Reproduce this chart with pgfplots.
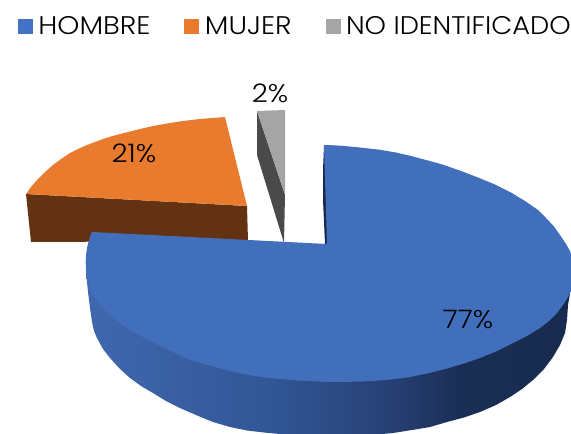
\documentclass[border=0pt]{standalone}
\usepackage{fontspec}
\setmainfont{Poppins}[UprightFont=* Light, FakeStretch=1.1]
\usepackage{pgfplots}
\pgfplotsset{compat=1.18}
\definecolor{cblue}{HTML}{4472C4}
\definecolor{topblue}{HTML}{416FBC}
\definecolor{corange}{HTML}{E97B2F}
\definecolor{cbrown}{HTML}{633213}
\definecolor{cgray}{HTML}{A5A5A5}
\definecolor{cdgray}{HTML}{4A4A4A}
\definecolor{sideR}{HTML}{172A4E}
\definecolor{sa}{HTML}{4068AF}
\definecolor{sb}{HTML}{315594}
\definecolor{sc}{HTML}{263F72}
\definecolor{sd}{HTML}{1A2E55}
\pgfdeclarehorizontalshading{sidewall}{100bp}{
  color(0bp)=(sa);
  color(25bp)=(sa);
  color(45bp)=(sb);
  color(57bp)=(sc);
  color(63.5bp)=(sd);
  color(75bp)=(sideR);
  color(100bp)=(sideR)}
\newcommand{\lblfont}{\fontsize{25.5}{27}\selectfont}
\begin{document}
\begin{tikzpicture}
\begin{axis}[
  scale only axis, width=571pt, height=434pt,
  xmin=0, xmax=571, ymin=0, ymax=434, y dir=reverse,
  axis lines=none, clip=true,
  legend style={draw=none, fill=none, at={(axis cs:18,26)}, anchor=west,
    legend columns=3, font=\lblfont, inner sep=0pt, outer sep=0pt,
    /tikz/every odd column/.append style={column sep=4pt},
    /tikz/every even column/.append style={column sep=32pt},
    /tikz/column 4/.append style={column sep=30pt}},
  legend cell align=left,
  legend image code/.code={\fill[#1] (0pt,-7pt) rectangle (14pt,7pt);},
]
\addlegendimage{cblue}\addlegendentry{HOMBRE}
\addlegendimage{corange}\addlegendentry{MUJER}
\addlegendimage{cgray}\addlegendentry{\scalebox{0.97}[1]{NO IDENTIFICADO}}

% gray slice (2%)
\addplot[forget plot, draw=none, fill=cdgray] coordinates {(257,111)(285,195)(284,243)(257,155)};
\addplot[forget plot, draw=none, fill=cgray] coordinates {(257,111)(285,110)(285,195)};
% orange slice (21%)
\addplot[forget plot, draw=none, fill=cbrown] coordinates {(26,194)(247,206)(248,241)(31,242)};
\addplot[forget plot, draw=none, fill=corange] coordinates {(225,117)(247,206)(26,194)(31,187)(37,180)(45,172)(53,165)(61,159)(70,153)(78,149)(87,145)(95,142)(103,139)(111,136.5)(120,134)(130,131.5)(140,129)(153,126)(167,123.5)(183,121)(200,119)(212,118)};
% blue slice (77%): side wall
\addplot[forget plot, draw=none, shade, shading=sidewall] coordinates {
(86,262)(86.5,277)(88,292)(90,308)(92,322)(94,331)(97,338)(103,349)(110,358)(120,369)(130,378)(141,386)(153,393)(166,401)(180,408)(196,415)(213,422)(230,427)(247,430.5)(264,432.5)(280,434)(300,435)(320,435.5)(340,435.5)(360,435)(377,434.5)(393,433)(412,430)(430,427)(447,422)(464,417.5)(480,412)(496,405)(510,397)(522,389)(533,380)(544,369)(553,357)(560,345)(565,333)(567,320)(568,305)(571,288)};
% cut-face sliver
\addplot[forget plot, draw=none, fill=sideR] coordinates {(324,146)(323,170)(323,200)(325,244)(328,244)(326,146)};
% blue slice: top
\addplot[forget plot, draw=none, fill=topblue] coordinates {
(91.7,232)(327,244)(324,145)(334,145.3)(344,146)(360,147.5)(378,149.5)(395,152.3)(411,156)(428,160.5)(444,165)(461,171)(478,177.5)(495,184.5)(511,192.5)(525,201)(538,210)(546,218)(554,226.5)(560,235)(566,244)(570,251)(572,258)(573.5,265)(574,272)(574,279)(573,285)(571,291)(568,297)(563,305)(557,313)(549,321)(540,328)(527,336)(513,343)(497,351)(480,358)(464,363.5)(447,368.5)(429,373)(410,377)(395,379)(380,380.5)(362,381.5)(343,382)(326,381.8)(310,381)(295,380.3)(280,379)(267,377.8)(255,376)(242,373.7)(230,371)(213,366.5)(197,362)(188,359)(180,355.5)(171,351)(163,347)(155,343.5)(147,339)(138,334.5)(130,330)(121,324)(113,318)(108,313.5)(103,308)(98,302)(93,295)(89.5,286.5)(87,278)(86,270)(85.7,262)(86,255)(87,248)(89,240)};

\node[font=\lblfont, inner sep=0pt] at (axis cs:270,93) {2\%};
\node[font=\lblfont, inner sep=0pt] at (axis cs:134,153) {21\%};
\node[font=\lblfont, inner sep=0pt] at (axis cs:468,320) {77\%};
\end{axis}
\pgfresetboundingbox
\path (0,0) rectangle (571pt,434pt);
\end{tikzpicture}
\end{document}
